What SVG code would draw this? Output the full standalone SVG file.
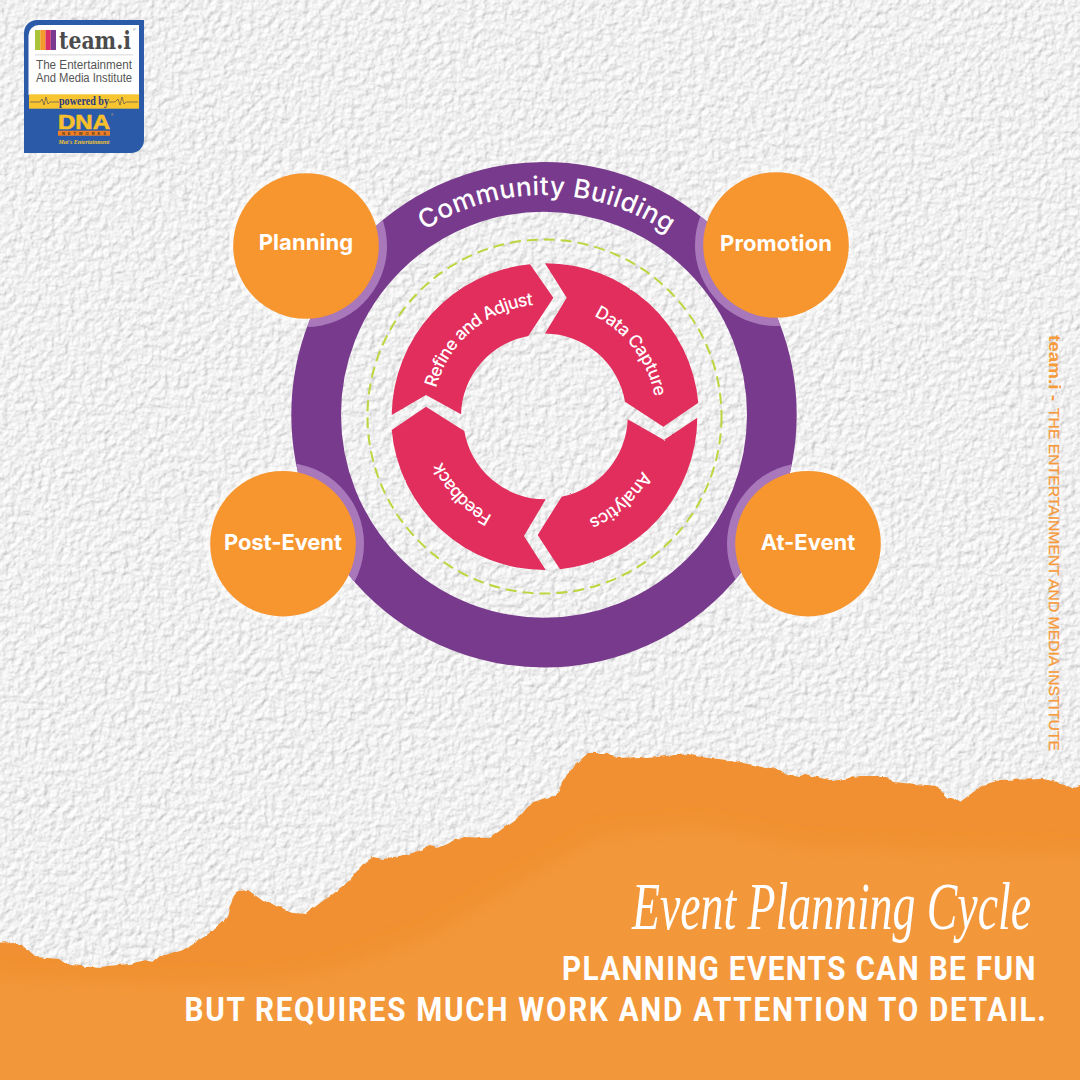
<svg xmlns="http://www.w3.org/2000/svg" width="1080" height="1080" viewBox="0 0 1080 1080">
<style>
.seg{fill:#e22d5b}
.segt{font-family:Inter,"Liberation Sans",sans-serif;font-size:17.500px;font-weight:500;fill:#fff}
.node{fill:#f7952f}
.halo{fill:none;stroke:#fff;stroke-opacity:.45;stroke-width:5}
.lav{fill:#a878bb}
.lbl{font-family:Inter,"Liberation Sans",sans-serif;font-size:22px;font-weight:700;fill:#fff}
.head{font-family:Roboto,"Liberation Sans",sans-serif;font-size:33px;font-weight:700;fill:#fff}
.lg{font-family:"Liberation Sans",Arial,sans-serif}
</style>
<defs>
<filter id="paper" x="0" y="0" width="100%" height="100%" color-interpolation-filters="sRGB">
<feTurbulence type="fractalNoise" baseFrequency=".15" numOctaves="5" seed="7" result="n"/>
<feDiffuseLighting in="n" surfaceScale="1.05" diffuseConstant="1" lighting-color="#fff"><feDistantLight azimuth="225" elevation="71"/></feDiffuseLighting>
</filter>
<filter id="torn" x="0" y="0" width="100%" height="100%" filterUnits="userSpaceOnUse" primitiveUnits="userSpaceOnUse">
<feTurbulence type="fractalNoise" baseFrequency=".12" numOctaves="3" seed="4" result="t"/>
<feDisplacementMap in="SourceGraphic" in2="t" scale="4" xChannelSelector="R" yChannelSelector="G"/>
</filter>
<filter id="wash" x="-5%" y="-10%" width="110%" height="120%"><feGaussianBlur stdDeviation="9"/></filter>
<filter id="rough" x="-2%" y="-2%" width="104%" height="104%">
<feTurbulence type="fractalNoise" baseFrequency=".25" numOctaves="2" seed="9" result="t"/>
<feDisplacementMap in="SourceGraphic" in2="t" scale="1.6" xChannelSelector="R" yChannelSelector="G"/>
</filter>
<clipPath id="ringclip"><path clip-rule="evenodd" d="M291.3,414.7a252.7,252.7 0 1 0 505.4,0a252.7,252.7 0 1 0 -505.4,0ZM341,414.7a203,203 0 1 0 406,0a203,203 0 1 0 -406,0Z"/></clipPath>
<clipPath id="orangeclip"><path d="M-10,943 13,942 22,945 35,957 60,959 70,965 100,968 107,966 130,964 147,960 152,963 160,956 183,950 207,935 228,917 233,897 238,891 248,890 263,901 280,907 293,913 306,914 320,903 340,888 350,880 362,865 373,857 383,859 410,854 430,846 437,848 463,837 490,838 520,816 532,802 557,795 562,783 570,770 588,753 607,753 617,758 640,757 647,758 687,754 700,757 727,760 733,763 740,762 770,769 775,768 783,773 800,777 805,774 833,781 860,776 887,776 893,782 937,786 947,798 952,797 960,802 983,785 1000,780 1043,779 1057,782 1072,789 1090,780 1090,1090 -10,1090Z"/></clipPath>
<path id="arcRing" d="M324,415A220,220 0 0 1 764,415"/>
<path id="arcT" d="M432.5,416.5A112,112 0 0 1 656.5,416.5"/>
</defs>

<rect id="paper-bg" width="1080" height="1080" fill="#eee" filter="url(#paper)"/>

<g id="torn-orange" filter="url(#torn)">
<g clip-path="url(#orangeclip)">
<rect x="-10" y="740" width="1100" height="350" fill="#f09030"/>
<path d="M-20,975 170,982 260,980 330,970 430,935 520,880 600,835 700,825 800,845 950,850 1100,852 1100,1100 -20,1100Z" fill="#f3973a" filter="url(#wash)"/>
</g>
</g>

<g id="logo">
<path d="M37,20H144V140A13,13 0 0 1 131,153H24V33A13,13 0 0 1 37,20Z" fill="#2b5ba8"/>
<path d="M39,25H139V95H28.500V35.500A10.500,10.500 0 0 1 39,25Z" fill="#fff"/>
<rect x="29" y="94.300" width="110" height="14.400" fill="#f7c52f"/>
<rect x="35" y="30" width="5.250" height="20" fill="#a8c23a"/>
<rect x="40.250" y="30" width="5.250" height="20" fill="#f39a2b"/>
<rect x="45.500" y="30" width="5.250" height="20" fill="#d92e66"/>
<rect x="50.750" y="30" width="5.250" height="20" fill="#7b3a91"/>
<text x="59" y="49.300" font-family="'DejaVu Serif',serif" font-size="24" font-weight="700" fill="#4c4c4c" textLength="72" lengthAdjust="spacingAndGlyphs">team.i</text>
<text class="lg" x="133" y="31" font-size="3.500" fill="#666">®</text>
<rect x="35" y="54.500" width="98" height=".8" fill="#ccc"/>
<text class="lg" x="36" y="68.700" font-size="12" fill="#555" textLength="96" lengthAdjust="spacingAndGlyphs">The Entertainment</text>
<text class="lg" x="36" y="82" font-size="12" fill="#555" textLength="96" lengthAdjust="spacingAndGlyphs">And Media Institute</text>
<polyline points="30,102 40,102 42,99 44,105 46,97 48,104 50,102 59,102" fill="none" stroke="#3a3a5a" stroke-width=".6"/>
<polyline points="109,102 115,102 118,99 120,105 122,97 124,104 126,102 138,102" fill="none" stroke="#3a3a5a" stroke-width=".6"/>
<text x="84" y="105" font-family="Liberation Serif,serif" font-size="12.500" font-weight="700" fill="#2b3a80" text-anchor="middle" textLength="50" lengthAdjust="spacingAndGlyphs">powered by</text>
<text class="lg" x="58" y="129" font-size="21" font-weight="700" fill="#f7c02c" stroke="#f7c02c" stroke-width=".6" textLength="52" lengthAdjust="spacingAndGlyphs">DNA</text>
<text class="lg" x="111" y="116" font-size="3" fill="#f7c02c">®</text>
<rect x="58" y="130.700" width="52" height="5" fill="#ef7f26"/>
<text class="lg" x="84" y="135" font-size="4" font-weight="700" fill="#4a3a20" text-anchor="middle" textLength="44" lengthAdjust="spacing">NETWORKS</text>
<text x="84" y="144" font-family="Liberation Serif,serif" font-size="5.500" font-style="italic" font-weight="700" fill="#f7c52f" text-anchor="middle" textLength="51" lengthAdjust="spacingAndGlyphs">Mat's Entertainment</text>
</g>

<g id="halos">
<circle class="halo" cx="306" cy="246" r="75"/><circle class="halo" cx="776" cy="245" r="75"/><circle class="halo" cx="283" cy="543.700" r="75"/><circle class="halo" cx="808" cy="543.700" r="75"/>
</g>

<g id="connectors">
<circle cx="544" cy="414.700" r="227.850" fill="none" stroke="#783a8c" stroke-width="49.700"/>
<circle cx="544.500" cy="416.500" r="177" fill="none" stroke="#bcd63f" stroke-width="2" stroke-dasharray="11 6"/>
</g>

<g id="ring-label">
<text font-family="Inter,'Liberation Sans',sans-serif" font-size="26px" font-weight="500" fill="#fff" transform="rotate(.7 544 415)"><textPath href="#arcRing" startOffset="50%" text-anchor="middle" textLength="258" lengthAdjust="spacing">Community Building</textPath></text>
</g>

<g id="segment-data-capture"><path class="seg" filter="url(#rough)" d="M545,263.300L566.700,297.700L545,333.500A82,82 0 0 1 625,401.700L663.300,426.700L698.300,402.700A153.500,153.500 0 0 0 545,263.300Z"/>
<text class="segt" transform="rotate(53 544.500 416.500)"><textPath href="#arcT" startOffset="50%" text-anchor="middle" textLength="105" lengthAdjust="spacing">Data Capture</textPath></text></g>
<g id="segment-analytics"><path class="seg" filter="url(#rough)" d="M697.300,417.700L664,440L627.700,419.300A82,82 0 0 1 561.700,496.700L537.700,535L560,569.300A153.500,153.500 0 0 0 697.300,417.700Z"/>
<text class="segt" transform="rotate(138 544.500 416.500)"><textPath href="#arcT" startOffset="50%" text-anchor="middle" textLength="74" lengthAdjust="spacing">Analytics</textPath></text></g>
<g id="segment-feedback"><path class="seg" filter="url(#rough)" d="M545.700,570L524,536L545.700,499.300A82,82 0 0 1 464.300,431L426,406.700L391.700,430A153.500,153.500 0 0 0 545.700,570Z"/>
<text class="segt" transform="rotate(227 544.500 416.500)"><textPath href="#arcT" startOffset="50%" text-anchor="middle" textLength="75" lengthAdjust="spacing">Feedback</textPath></text></g>
<g id="segment-refine"><path class="seg" filter="url(#rough)" d="M391.700,415L426,395L461,414.300A82,82 0 0 1 528.300,336L553.300,297.700L530,264.300A153.500,153.500 0 0 0 391.700,415Z"/>
<text class="segt" transform="rotate(-40.500 544.500 416.500)"><textPath href="#arcT" startOffset="50%" text-anchor="middle" textLength="136" lengthAdjust="spacing">Refine and Adjust</textPath></text></g>

<g id="node-planning"><circle class="lav" cx="306" cy="246" r="81" clip-path="url(#ringclip)"/><circle class="node" cx="306" cy="246" r="72.800"/><text class="lbl" x="258.700" y="250" textLength="94.500" lengthAdjust="spacing">Planning</text></g>
<g id="node-promotion"><circle class="lav" cx="776" cy="245" r="81" clip-path="url(#ringclip)"/><circle class="node" cx="776" cy="245" r="72.800"/><text class="lbl" x="720" y="250.500" textLength="112" lengthAdjust="spacing">Promotion</text></g>
<g id="node-post-event"><circle class="lav" cx="283" cy="543.700" r="81" clip-path="url(#ringclip)"/><circle class="node" cx="283" cy="543.700" r="72.800"/><text class="lbl" x="224" y="550" textLength="118" lengthAdjust="spacing">Post-Event</text></g>
<g id="node-at-event"><circle class="lav" cx="808" cy="543.700" r="81" clip-path="url(#ringclip)"/><circle class="node" cx="808" cy="543.700" r="72.800"/><text class="lbl" x="760.700" y="550" textLength="94.500" lengthAdjust="spacing">At-Event</text></g>

<g id="side-text" font-family="'Liberation Sans',Arial,sans-serif" fill="#f79a3a">
<text transform="translate(1048.500 335) rotate(90)" font-size="17" font-weight="700" textLength="66" lengthAdjust="spacingAndGlyphs">team.i -</text>
<text transform="translate(1048.500 408) rotate(90)" font-size="15.500" textLength="343" lengthAdjust="spacingAndGlyphs" stroke="#f79a3a" stroke-width=".25">THE ENTERTAINMENT AND MEDIA INSTITUTE</text>
</g>

<text id="title" transform="translate(632 929) scale(.674 1)" font-family="'Liberation Serif',serif" font-style="italic" font-size="68" fill="#fff" textLength="592" lengthAdjust="spacing">Event Planning Cycle</text>
<text id="line1" class="head" transform="translate(562 980) scale(.9 1)" textLength="526" lengthAdjust="spacing">PLANNING EVENTS CAN BE FUN</text>
<text id="line2" class="head" transform="translate(184.500 1020.500) scale(.9 1)" textLength="957" lengthAdjust="spacing">BUT REQUIRES MUCH WORK AND ATTENTION TO DETAIL.</text>
</svg>
